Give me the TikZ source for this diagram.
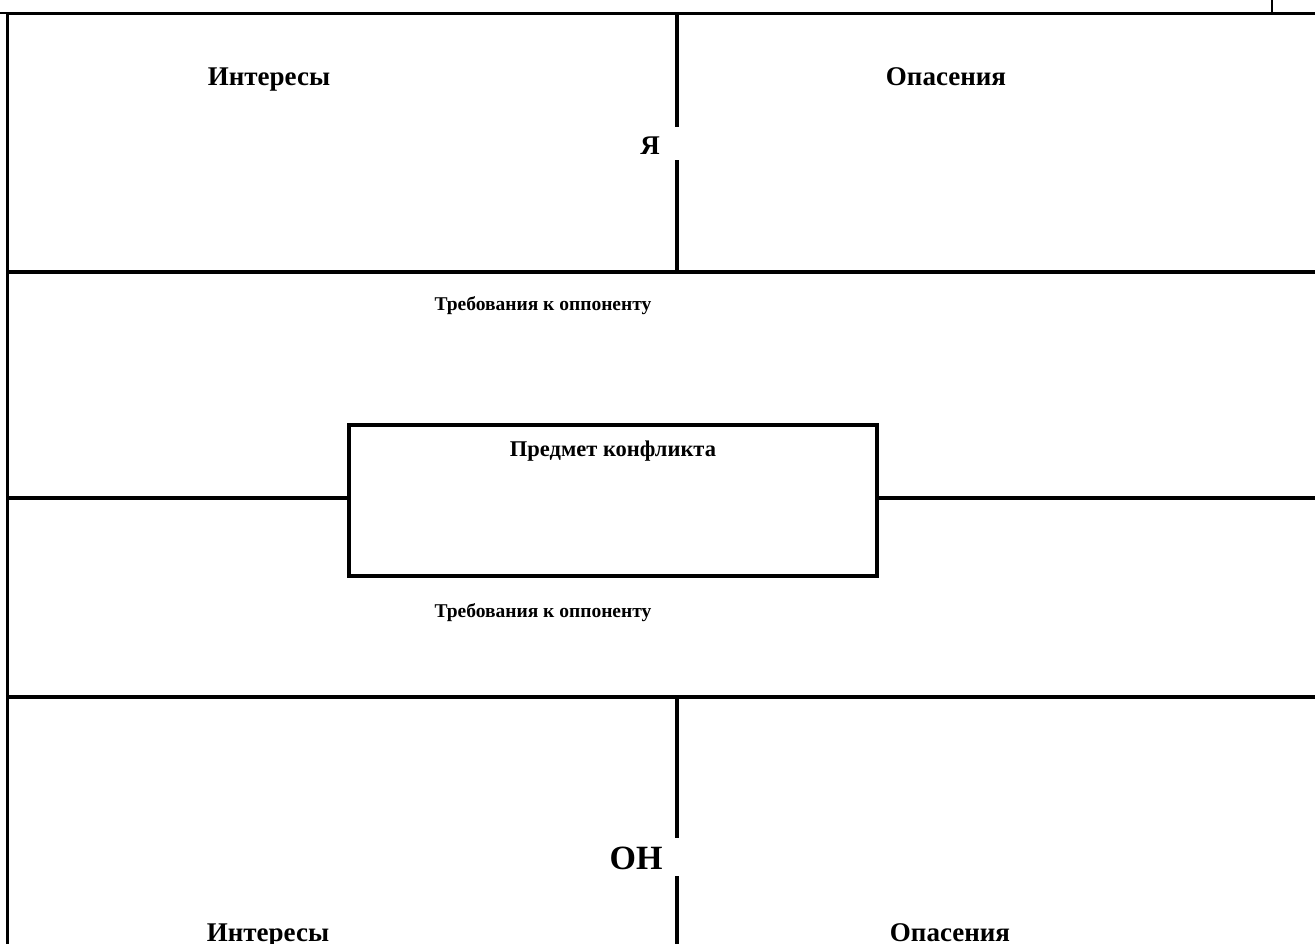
\documentclass[tikz,border=0pt]{standalone}
\usepackage{fontspec}
\setmainfont{Liberation Serif}
\begin{document}
\begin{tikzpicture}[x=1pt,y=-1pt,
  rule/.style={line width=3.2pt,line cap=rect},
  thin rule/.style={line width=2pt},
  big/.style={font=\bfseries\fontsize{27}{30}\selectfont,anchor=base,inner sep=0pt},
  mid/.style={font=\bfseries\fontsize{22.5}{26}\selectfont,anchor=base,inner sep=0pt},
  small/.style={font=\bfseries\fontsize{19.5}{22}\selectfont,anchor=base,inner sep=0pt},
  huge/.style={font=\bfseries\fontsize{34}{38}\selectfont,anchor=base,inner sep=0pt}]
\useasboundingbox (0,0) rectangle (1315,944);
% frame lines
\draw[thin rule] (0,13) -- (7.5,13);
\draw[thin rule] (1272,0) -- (1272,13.5);
\draw[rule] (7.5,13.5) -- (1316,13.5);
\draw[rule] (7.5,13.5) -- (7.5,946);
\draw[rule] (7.5,272) -- (1316,272);
\draw[rule] (7.5,697) -- (1316,697);
% upper centre divider with gap for the label
\draw[rule] (677,13.5) -- (677,125);
\draw[rule] (677,162) -- (677,272);
% lower centre divider
\draw[rule] (677,697) -- (677,836);
\draw[rule] (677,878) -- (677,946);
% central box
\node[draw,line width=3.2pt,minimum width=528pt,minimum height=151pt,inner sep=0pt] (box) at (613,500.5) {};
\draw[rule] (7.5,498) -- (box.west |- 0,498);
\draw[rule] (box.east |- 0,498) -- (1316,498);
% texts
\node[big] (int1) at (269,86) {Интересы};
\node[big] (op1) at (946,86) {Опасения};
\node[big] (ya) at (650,155) {Я};
\node[small] (tr1) at (543,310) {Требования к оппоненту};
\node[mid] (pk) at (613,456) {Предмет конфликта};
\node[small] (tr2) at (543,617) {Требования к оппоненту};
\node[huge] (on) at (636,869) {ОН};
\node[big] (int2) at (268,941) {Интересы};
\node[big] (op2) at (950,941) {Опасения};
\end{tikzpicture}
\end{document}
